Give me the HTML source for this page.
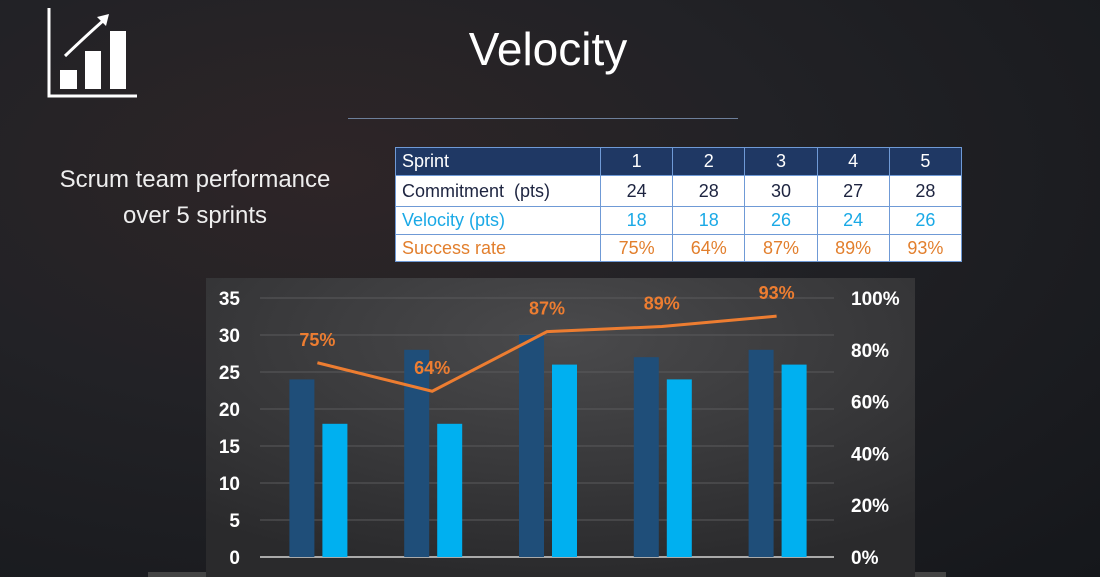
<!DOCTYPE html>
<html><head><meta charset="utf-8"><style>
body{margin:0;width:1100px;height:577px;overflow:hidden;background:#1c1d21;font-family:"Liberation Sans",sans-serif;}
#bg{position:absolute;left:0;top:0;width:1100px;height:577px;background:radial-gradient(ellipse at 30% 30%,#2e2527 0%,#222226 40%,#15171b 100%);}
.t{position:absolute;color:#fff;}
table{position:absolute;left:395px;top:147px;width:567px;border-collapse:collapse;background:#fff;font-size:18px;}
td{border:1px solid #6f9ad6;padding:0 6px;text-align:center;}
td:first-child{text-align:left;}
tr.h td{background:#1f3864;color:#fff;height:27px;}
tr.c td{color:#1d2440;height:30px;}
tr.v td{color:#1aa9e6;height:27px;}
tr.s td{color:#e27f2d;height:26px;}
</style></head><body>
<div id="bg"></div>
<svg style="position:absolute;left:0;top:0" width="140" height="100">
<polyline points="49,8 49,96 137,96" fill="none" stroke="#fff" stroke-width="3"/>
<rect x="60" y="70" width="17" height="19" fill="#fff"/><rect x="85" y="51" width="16" height="38" fill="#fff"/><rect x="110" y="31" width="16" height="58" fill="#fff"/>
<path d="M65,56 Q88,34 104,20" fill="none" stroke="#fff" stroke-width="3"/><polygon points="109,14 97,17 106,26" fill="#fff"/>
</svg>
<div class="t" style="left:400px;top:22px;width:296px;text-align:center;font-size:46px">Velocity</div>
<div style="position:absolute;left:348px;top:118px;width:390px;height:1px;background:#6d7f9a"></div>
<div class="t" style="left:20px;top:162px;width:350px;text-align:center;font-size:24px;line-height:36px;color:#eee">Scrum team performance<br>over 5 sprints</div>
<table>
<tr class="h"><td style="width:192px">Sprint</td><td>1</td><td>2</td><td>3</td><td>4</td><td>5</td></tr>
<tr class="c"><td>Commitment&nbsp; (pts)</td><td>24</td><td>28</td><td>30</td><td>27</td><td>28</td></tr>
<tr class="v"><td>Velocity (pts)</td><td>18</td><td>18</td><td>26</td><td>24</td><td>26</td></tr>
<tr class="s"><td>Success rate</td><td>75%</td><td>64%</td><td>87%</td><td>89%</td><td>93%</td></tr>
</table>
<div style="position:absolute;left:148px;top:572px;width:798px;height:5px;background:#444"></div>
<svg id="chart" style="position:absolute;left:0;top:0" width="1100" height="577">
<defs><radialGradient id="pg" cx="50%" cy="20%" r="80%"><stop offset="0" stop-color="#4a4a4c"/><stop offset="1" stop-color="#2a2a2c"/></radialGradient></defs>
<rect x="206" y="278" width="709" height="299" fill="url(#pg)"/>
</svg>
<script>
const categories=["1","2","3","4","5"];
const commitment=[24,28,30,27,28];
const velocity=[18,18,26,24,26];
const successRate=[75,64,87,89,93];
const leftTicks=[0,5,10,15,20,25,30,35];
const rightTicks=[0,20,40,60,80,100];
const svg=document.getElementById('chart');const NS='http://www.w3.org/2000/svg';
const x0=260,x1=834,yb=557,yt=298;
const yL=v=>yb-(v/35)*(yb-yt);
const yR=v=>yb-(v/100)*(yb-yt);
const cw=(x1-x0)/categories.length;
const cx=i=>x0+cw*(i+0.5);
function mk(t,a){const e=document.createElementNS(NS,t);for(const k in a)e.setAttribute(k,a[k]);svg.appendChild(e);return e;}
leftTicks.forEach(v=>{
 const l=mk('line',{x1:x0,x2:x1,y1:yL(v),y2:yL(v),stroke:v?'#5a5a5c':'#aaa','stroke-width':v?1:2});
 
 
 const t=mk('text',{x:240,y:yL(v)+7,'text-anchor':'end',fill:'#fff','font-size':19,'font-weight':'bold'});t.textContent=v;
 
 
});
rightTicks.forEach(v=>{
 const t=mk('text',{x:851,y:yR(v)+7,fill:'#fff','font-size':19,'font-weight':'bold'});t.textContent=v+'%';
 
 
});
categories.forEach((c,i)=>{
 const b=mk('rect',{x:cx(i)-28,y:yL(commitment[i]),width:25,height:yb-yL(commitment[i]),fill:'#1f4e79'});
 
 
 const v=mk('rect',{x:cx(i)+5,y:yL(velocity[i]),width:25,height:yb-yL(velocity[i]),fill:'#00b0f0'});
 
 
});
const pl=mk('polyline',{points:successRate.map((s,i)=>cx(i)+','+yR(s)).join(' '),fill:'none',stroke:'#ed7d31','stroke-width':3});


successRate.forEach((s,i)=>{
 const t=mk('text',{x:cx(i),y:yR(s)-17,'text-anchor':'middle',fill:'#ed7d31','font-size':18,'font-weight':'bold'});t.textContent=s+'%';
 
 
});
</script>
</body></html>
